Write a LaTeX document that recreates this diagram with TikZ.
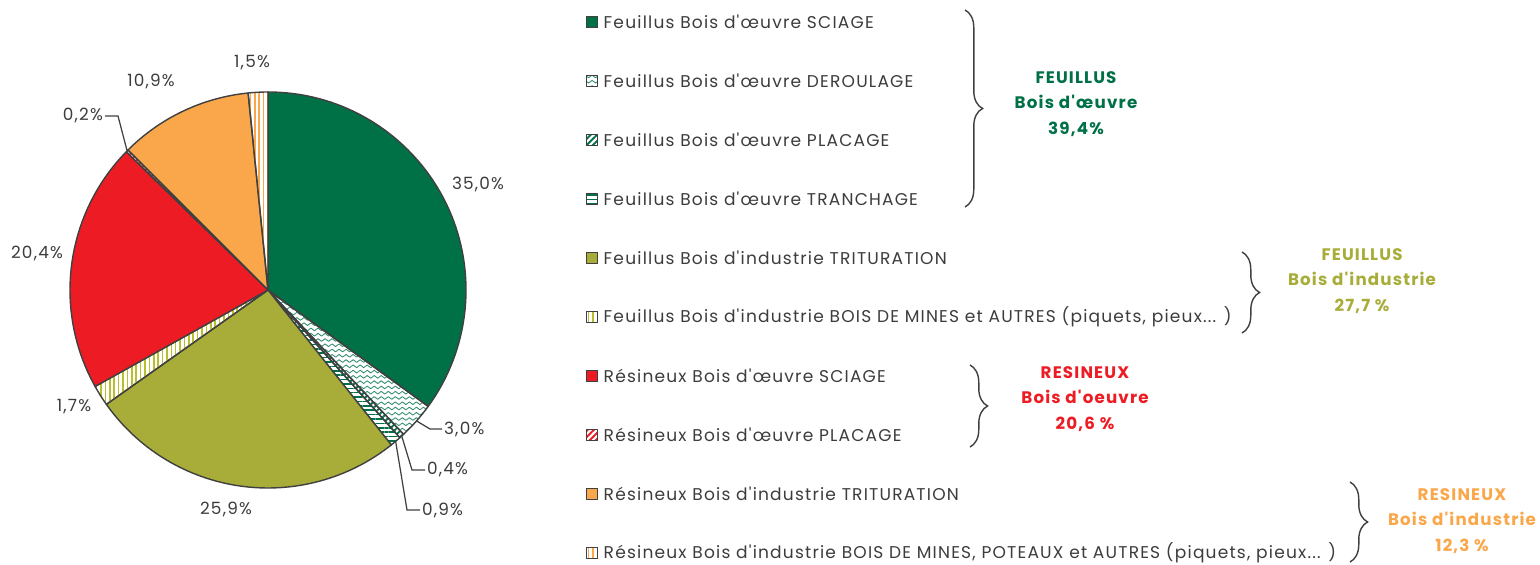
\documentclass[tikz,border=0pt]{standalone}
\usepackage{fontspec}
\setmainfont{Poppins}[LetterSpace=7, Ligatures=TeXOff]
\usepackage{xcolor}
\usetikzlibrary{positioning,patterns,patterns.meta,decorations.pathreplacing}
\definecolor{vertF}{RGB}{0,112,71}
\definecolor{oliveF}{RGB}{168,173,58}
\definecolor{rougeR}{RGB}{237,28,36}
\definecolor{orangeR}{RGB}{249,167,74}
\definecolor{trait}{RGB}{64,64,64}
\definecolor{texte}{RGB}{60,60,60}
\pgfdeclarepatternformonly{vagues}{\pgfpoint{-1pt}{-1pt}}{\pgfpoint{5pt}{4pt}}{\pgfpoint{4pt}{3pt}}{
  \pgfsetlinewidth{0.5pt}
  \pgfpathmoveto{\pgfpoint{0pt}{1.5pt}}
  \pgfpathcurveto{\pgfpoint{1pt}{2.5pt}}{\pgfpoint{1pt}{2.5pt}}{\pgfpoint{2pt}{1.5pt}}
  \pgfpathcurveto{\pgfpoint{3pt}{0.5pt}}{\pgfpoint{3pt}{0.5pt}}{\pgfpoint{4pt}{1.5pt}}
  \pgfusepath{stroke}
}
\tikzset{
  part/.style={draw=trait, line width=0.8pt, line join=round},
  sciF/.style={part, fill=vertF},
  derF/.style={part, pattern=vagues, pattern color=vertF!80},
  plaF/.style={part, pattern={Lines[angle=45,distance=2.5pt,line width=1.1pt]}, pattern color=vertF},
  traF/.style={part, pattern={Lines[angle=0,distance=2.5pt,line width=0.9pt]}, pattern color=vertF},
  triF/.style={part, fill=oliveF},
  minF/.style={part, pattern={Lines[angle=90,distance=2.5pt,line width=0.9pt]}, pattern color=oliveF!80!yellow},
  sciR/.style={part, fill=rougeR},
  plaR/.style={part, pattern={Lines[angle=45,distance=2.5pt,line width=1.1pt]}, pattern color=rougeR},
  triR/.style={part, fill=orangeR},
  minR/.style={part, pattern={Lines[angle=90,distance=2.5pt,line width=0.9pt]}, pattern color=orangeR},
  pct/.style={font=\fontsize{9.6}{11}\selectfont, text=texte, inner sep=1pt},
  renvoi/.style={draw=trait, line width=0.7pt},
  carre/.style={minimum size=0.23cm, inner sep=0pt, line width=0.7pt},
  legende/.style={font=\fontsize{9.7}{11}\selectfont, text=texte, anchor=west, inner sep=0pt},
  accolade/.style={decorate, decoration={brace, amplitude=10pt}, draw=trait, line width=0.8pt},
  groupe/.style={font=\fontsize{9.5}{14.7}\selectfont\bfseries, align=center}
}
\begin{document}
\begin{tikzpicture}[x=0.02cm, y=0.02cm]
\useasboundingbox (0,0) rectangle (1540,564);
\coordinate (c) at (268,274);
\foreach \a/\b/\st in {90/-36/sciF, -36/-46.8/derF, -46.8/-48.24/plaF, -48.24/-51.48/traF,
    -51.48/-144.72/triF, -144.72/-150.84/minF, -150.84/-224.28/sciR, -224.28/-225/plaR,
    -225/-264.24/triR, -264.24/-270/minR}
  \draw[\st] (c) -- ++(\a:198) arc[start angle=\a, end angle=\b, radius=198] -- cycle;

\path (c) ++(-41.4:198) coordinate (e2);
\path (c) ++(-47.52:198) coordinate (e3);
\path (c) ++(-49.86:198) coordinate (e4);
\path (c) ++(135.36:198) coordinate (e8);

\node[pct] (p1) at (478,380) {35,0\%};
\node[pct, anchor=west] (p2) at (442,135) {3,0\%};
\node[pct, anchor=west] (p3) at (425,94) {0,4\%};
\node[pct, anchor=west] (p4) at (420,54) {0,9\%};
\node[pct] (p5) at (226,55) {25,9\%};
\node[pct] (p6) at (74,157) {1,7\%};
\node[pct] (p7) at (37,310) {20,4\%};
\node[pct, anchor=east] (p8) at (105,448) {0,2\%};
\node[pct] (p9) at (151,483) {10,9\%};
\node[pct] (p10) at (252,501) {1,5\%};

\draw[renvoi] (e2) -- (430,135) -- (p2.west);
\draw[renvoi] (e3) -- (412,94) -- (p3.west);
\draw[renvoi] (e4) -- (407,54) -- (p4.west);
\draw[renvoi] (e8) -- (118,448) -- (p8.east);

\foreach \st/\txt [count=\i] in {sciF/{Feuillus Bois d'œuvre SCIAGE},
    derF/{Feuillus Bois d'œuvre DEROULAGE},
    plaF/{Feuillus Bois d'œuvre PLACAGE},
    traF/{Feuillus Bois d'œuvre TRANCHAGE},
    triF/{Feuillus Bois d'industrie TRITURATION},
    minF/{Feuillus Bois d'industrie BOIS DE MINES et AUTRES (piquets, pieux... )},
    sciR/{Résineux Bois d'œuvre SCIAGE},
    plaR/{Résineux Bois d'œuvre PLACAGE},
    triR/{Résineux Bois d'industrie TRITURATION},
    minR/{Résineux Bois d'industrie BOIS DE MINES, POTEAUX et AUTRES (piquets, pieux... )}} {
  \node[\st, carre] (sq\i) at (592,601-59*\i) {};
  \node[legende, right=0.1cm of sq\i] (lg\i) {\txt};
}

\coordinate (b1h) at (965,554);
\coordinate (b1b) at (965,357);
\coordinate (b2h) at (1242,312);
\coordinate (b2b) at (1242,231);
\coordinate (b3h) at (970,199);
\coordinate (b3b) at (970,117);
\coordinate (b4h) at (1350,82);
\coordinate (b4b) at (1350,2);
\draw[accolade] (b1h) -- (b1b);
\draw[accolade] (b2h) -- (b2b);
\draw[accolade] (b3h) -- (b3b);
\draw[accolade] (b4h) -- (b4b);

\node[groupe, text=vertF] (g1) at (1076,460) {FEUILLUS\\Bois d'œuvre\\39,4\%};
\node[groupe, text=oliveF] (g2) at (1362,283) {FEUILLUS\\Bois d'industrie\\27,7 \%};
\node[groupe, text=rougeR] (g3) at (1085,165) {RESINEUX\\Bois d'oeuvre\\20,6 \%};
\node[groupe, text=orangeR] (g4) at (1462,43) {RESINEUX\\Bois d'industrie\\12,3 \%};
\end{tikzpicture}
\end{document}
